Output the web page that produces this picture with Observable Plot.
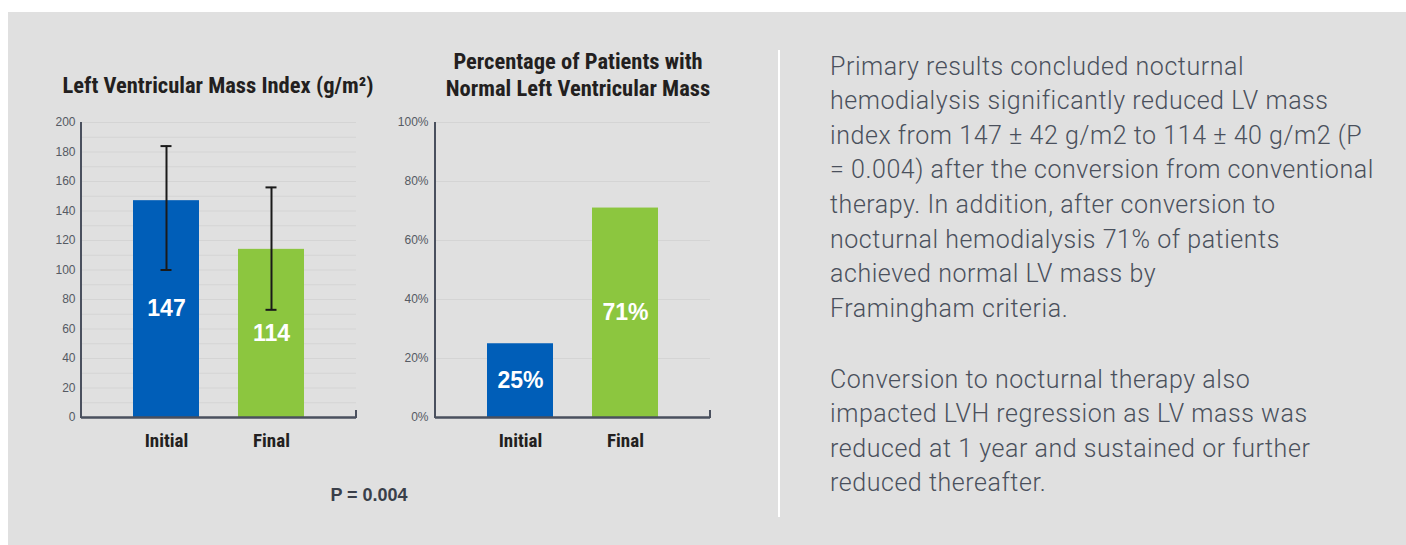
<!DOCTYPE html>
<html>
<head>
<meta charset="utf-8">
<script src="https://cdn.jsdelivr.net/npm/d3@7"></script>
<script src="https://cdn.jsdelivr.net/npm/@observablehq/plot@0.6"></script>
<style>
  html, body { margin: 0; padding: 0; background: #ffffff; width: 1406px; height: 545px; overflow: hidden; }
  #panel { position: absolute; left: 8px; top: 12px; width: 1398px; height: 533px; background: #e0e0e0; }
  .abs { position: absolute; }
  .title { font-family: "Liberation Sans Narrow", "Roboto Condensed", "Liberation Sans", sans-serif; font-stretch: condensed; font-weight: bold; font-size: 22.5px; color: #231f20; text-align: center; white-space: nowrap; }
  .para { font-family: Roboto, "Liberation Sans", sans-serif; font-weight: 300; font-size: 25px; letter-spacing: 0.55px; line-height: 34.6px; color: #4a505c; white-space: nowrap; }
  .pval { font-family: "Liberation Sans", Arial, sans-serif; font-weight: bold; font-size: 18px; color: #3a3f4a; }
</style>
</head>
<body>
<div id="panel"></div>
<div id="leftTitle" class="abs title" style="left:18px; width:400px; top:72px; line-height:26px;"></div>
<div id="rightTitle" class="abs title" style="left:378px; width:400px; top:48px; line-height:27px;"></div>
<div id="leftChart" class="abs" style="left:0px; top:110px;"></div>
<div id="rightChart" class="abs" style="left:355px; top:110px;"></div>
<div id="pval" class="abs pval" style="left:269px; width:200px; text-align:center; top:485px;"></div>
<div class="abs" style="left:778px; top:50px; width:2px; height:467px; background:#ffffff;"></div>
<div id="para1" class="abs para" style="left:830px; top:49.7px;"></div>
<div id="para2" class="abs para" style="left:830px; top:362.7px;"></div>
<script>
// ---- data ----
const categories = ["Initial", "Final"];
const lvmiValues = [147, 114];
const lvmiLow = [100, 73];
const lvmiHigh = [184, 156];
const pctValues = [25, 71];
const barColors = ["#005eb8", "#8cc63f"];
const lvmiTicks = [0, 20, 40, 60, 80, 100, 120, 140, 160, 180, 200];
const lvmiGrid = [10, 20, 30, 40, 50, 60, 70, 80, 90, 100, 110, 120, 130, 140, 150, 160, 170, 180, 190, 200];
const pctTicks = [0, 20, 40, 60, 80, 100];
const leftTitle = "Left Ventricular Mass Index (g/m²)";
const rightTitleLines = ["Percentage of Patients with", "Normal Left Ventricular Mass"];
const pLabel = "P = 0.004";
const para1Lines = [
  "Primary results concluded nocturnal",
  "hemodialysis significantly reduced LV mass",
  "index from 147 ± 42 g/m2 to 114 ± 40 g/m2 (P",
  "= 0.004) after the conversion from conventional",
  "therapy. In addition, after conversion to",
  "nocturnal hemodialysis 71% of patients",
  "achieved normal LV mass by",
  "Framingham criteria."
];
const para2Lines = [
  "Conversion to nocturnal therapy also",
  "impacted LVH regression as LV mass was",
  "reduced at 1 year and sustained or further",
  "reduced thereafter."
];

// ---- text ----
document.getElementById("leftTitle").textContent = leftTitle;
document.getElementById("rightTitle").innerHTML = rightTitleLines.map(s => `<div>${s}</div>`).join("");
document.getElementById("pval").textContent = pLabel;
document.getElementById("para1").innerHTML = para1Lines.map(s => `<div>${s}</div>`).join("");
document.getElementById("para2").innerHTML = para2Lines.map(s => `<div>${s}</div>`).join("");

const lvmiData = categories.map((c, i) => ({cat: c, value: lvmiValues[i], low: lvmiLow[i], high: lvmiHigh[i]}));
const pctData = categories.map((c, i) => ({cat: c, value: pctValues[i]}));

const axisColor = "#4a505e";
const gridColor = "#d4d4d4";
const condensed = "'Liberation Sans Narrow', 'Roboto Condensed', 'Liberation Sans', sans-serif";
const plain = "'Liberation Sans', Arial, sans-serif";

// frame decoration: left axis line and small right-end tick, from plot dimensions
function axisDecor(...args) {
  const dims = args.find(a => a && a.marginLeft !== undefined && a.width !== undefined);
  const g = d3.create("svg:g");
  const bottom = dims.height - dims.marginBottom;
  const right = dims.width - dims.marginRight;
  g.append("line").attr("x1", dims.marginLeft).attr("x2", dims.marginLeft)
    .attr("y1", dims.marginTop).attr("y2", bottom + 1)
    .attr("stroke", axisColor).attr("stroke-width", 2);
  g.append("line").attr("x1", right).attr("x2", right)
    .attr("y1", bottom - 7).attr("y2", bottom + 1)
    .attr("stroke", axisColor).attr("stroke-width", 2);
  return g.node();
}

const common = {
  width: 370, height: 350,
  marginTop: 12, marginBottom: 43,
  style: {background: "transparent", overflow: "visible"},
  x: {domain: categories, paddingInner: 0.371, paddingOuter: 0.495, axis: null},
  color: {domain: categories, range: barColors}
};

const left = Plot.plot({
  ...common,
  marginLeft: 81, marginRight: 14,
  y: {domain: [0, 200], axis: null},
  marks: [
    Plot.ruleY(lvmiGrid, {stroke: gridColor, strokeWidth: 1}),
    Plot.barY(lvmiData, {x: "cat", y: "value", fill: "cat"}),
    Plot.ruleX(lvmiData, {x: "cat", y1: "low", y2: "high", stroke: "#1a1a1a", strokeWidth: 2}),
    Plot.tickY(lvmiData, {x: "cat", y: "low", stroke: "#1a1a1a", strokeWidth: 2, insetLeft: 27.5, insetRight: 27.5}),
    Plot.tickY(lvmiData, {x: "cat", y: "high", stroke: "#1a1a1a", strokeWidth: 2, insetLeft: 27.5, insetRight: 27.5}),
    Plot.text(lvmiData, {x: "cat", y: d => d.value / 2, text: d => String(d.value), fill: "white", fontSize: 23, fontWeight: "bold", fontFamily: plain}),
    Plot.axisY(lvmiTicks, {tickSize: 0, tickPadding: 6, fontSize: 12, fill: "#555a63", fontFamily: plain, label: null}),
    Plot.axisX({tickSize: 0, tickPadding: 16, fontSize: 19, fontWeight: "bold", fill: "#231f20", fontFamily: condensed, label: null}),
    Plot.ruleY([0], {stroke: axisColor, strokeWidth: 2.5}),
    axisDecor
  ]
});
document.getElementById("leftChart").append(left);

const right = Plot.plot({
  ...common,
  marginLeft: 80, marginRight: 15,
  y: {domain: [0, 100], axis: null},
  marks: [
    Plot.ruleY(pctTicks.filter(t => t > 0), {stroke: gridColor, strokeWidth: 1}),
    Plot.barY(pctData, {x: "cat", y: "value", fill: "cat"}),
    Plot.text(pctData, {x: "cat", y: d => d.value / 2, text: d => d.value + "%", fill: "white", fontSize: 23, fontWeight: "bold", fontFamily: plain}),
    Plot.axisY(pctTicks, {tickSize: 0, tickPadding: 7, fontSize: 12, fill: "#555a63", fontFamily: plain, tickFormat: d => d + "%", label: null}),
    Plot.axisX({tickSize: 0, tickPadding: 16, fontSize: 19, fontWeight: "bold", fill: "#231f20", fontFamily: condensed, label: null}),
    Plot.ruleY([0], {stroke: axisColor, strokeWidth: 2.5}),
    axisDecor
  ]
});
document.getElementById("rightChart").append(right);
</script>
</body>
</html>
